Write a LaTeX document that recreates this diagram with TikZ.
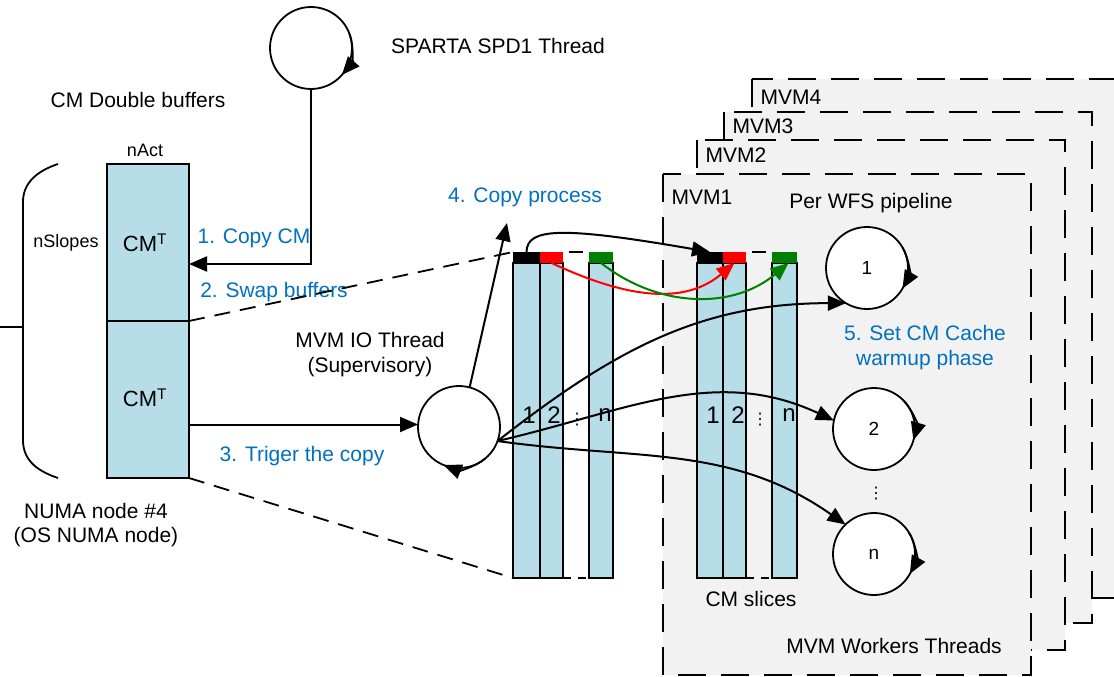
\documentclass[tikz,border=0pt]{standalone}
\usepackage{fontspec}
\setmainfont{Liberation Sans}
\newfontfamily\dotsfont{DejaVu Sans}
\usetikzlibrary{arrows.meta,positioning,calc}
\definecolor{StepBlue}{RGB}{0,112,192}
\definecolor{SliceBlue}{RGB}{183,222,232}
\definecolor{PanelGray}{RGB}{242,242,242}
\definecolor{CopyGreen}{RGB}{0,128,0}
\tikzset{
	thread/.style={draw, circle, line width=1.8pt, minimum size=82pt, inner sep=0pt, outer sep=0pt, fill=white, font=\fontsize{19}{21}\selectfont},
	cmbuf/.style={draw, line width=1.8pt, fill=SliceBlue, minimum width=82pt, minimum height=157pt, inner sep=0pt, outer sep=0pt},
	slice/.style={draw, line width=1.8pt, fill=SliceBlue, minimum height=315pt, inner sep=0pt, outer sep=0pt},
	slicecap/.style={minimum height=11pt, inner sep=0pt, outer sep=0pt},
	panel/.style={draw, line width=1.8pt, fill=PanelGray, dash pattern=on 28pt off 15pt},
	stepnote/.style={text=StepBlue},
	flow/.style={line width=2pt, -{Triangle[length=18pt,width=15pt]}},
	looptip/.style={line width=1.8pt, -{Triangle[length=18pt,width=15pt]}},
	projline/.style={line width=1.8pt, dash pattern=on 16pt off 10pt},
	colnum/.style={font=\fontsize{24}{26}\selectfont, inner sep=0pt},
	vdotsnode/.style={font=\dotsfont\fontsize{16}{18}\selectfont, inner sep=0pt}
}

\begin{document}
\begin{tikzpicture}[x=1pt, y=-1pt, font=\fontsize{21}{25}\selectfont]
	\useasboundingbox (0,0) rectangle (1114,677);
	% worker panels, back to front
	\draw[panel] (752,79) rectangle (1125,598);
	\draw[panel] (724,112) rectangle (1092,623);
	\draw[panel] (697,140) rectangle (1065,650);
	\draw[panel] (663,174) rectangle (1031,675);
	\node[anchor=west] (mvm4) at (757,97) {MVM4};
	\node[anchor=west] (mvm3) at (729,126) {MVM3};
	\node[anchor=west] (mvm2) at (702,155) {MVM2};
	\node[anchor=west] (mvm1) at (668,197) {MVM1};
	\node (perwfs) at (871,203) {Per WFS pipeline};
	\node (workers) at (894,646) {MVM Workers Threads};

	% CM double buffers
	\node (cmtitle) at (138,100) {CM Double buffers};
	\node[font=\fontsize{18}{20}\selectfont] (nact) at (145,150) {nAct};
	\node[cmbuf, anchor=north west] (cmA) at (107,164) {};
	\node[cmbuf, below=0pt of cmA] (cmB) {};
	\node[font=\fontsize{22}{24}\selectfont] at (145,243) {CM\textsuperscript{T}};
	\node[font=\fontsize{22}{24}\selectfont] at (145,398) {CM\textsuperscript{T}};
	\node[font=\fontsize{18}{20}\selectfont] (nslopes) at (66,243) {nSlopes};
	\draw[line width=1.8pt] (58,164) .. controls (34,172) and (23,185) .. (23,202) -- (23,440) .. controls (23,458) and (34,470) .. (58,478);
	\draw[line width=1.8pt] (0,327) -- (23,327);
	\node (numa1) at (96,511) {NUMA node \#4};
	\node (numa2) at (96,537) {(OS NUMA node)};

	% CM slices
	\foreach \nm/\xx/\ww/\cc in {a1/513/27/black, a2/540/23/red, a3/589/24/CopyGreen, b1/697/26/black, b2/723/23/red, b3/772/25/CopyGreen}{
		\node[slice, minimum width=\ww pt, anchor=north west] (\nm) at (\xx,263) {};
		\node[slicecap, minimum width=\ww pt, fill=\cc, above=0pt of \nm] (\nm cap) {};
	}
	\draw[line width=1.8pt, shorten <=6pt, shorten >=6pt] (a2cap.north east) -- (a3cap.north west);
	\draw[line width=1.8pt, shorten <=6pt, shorten >=6pt] (b2cap.north east) -- (b3cap.north west);
	\draw[line width=1.8pt, dash pattern=on 8pt off 7pt] (a2.south east) -- (a3.south west);
	\draw[line width=1.8pt, dash pattern=on 8pt off 7pt] (b2.south east) -- (b3.south west);
	\node[colnum] at (529,415) {1};
	\node[colnum] at (554,415) {2};
	\node[vdotsnode] at (577,420) {⋮};
	\node[colnum] at (605,415) {n};
	\node[colnum] at (713,415) {1};
	\node[colnum] at (738,415) {2};
	\node[vdotsnode] at (760,420) {⋮};
	\node[colnum] at (789,415) {n};
	\node (slices) at (751,599) {CM slices};

	% threads
	\node[thread] (sparta) at (311,48) {};
	\node (spartalbl) at (498,46) {SPARTA SPD1 Thread};
	\node[thread] (io) at (459,427) {};
	\node (iolbl1) at (370,340) {MVM IO Thread};
	\node (iolbl2) at (370,367) {(Supervisory)};
	\node[thread] (w1) at (867,268) {1};
	\node[thread] (w2) at (874,429) {2};
	\node[thread] (wn) at (874,554) {n};
	\node[vdotsnode] at (876,494) {⋮};
	\draw[looptip] (sparta.20) arc[start angle=-20, end angle=41, radius=41];
	\draw[looptip] (io.-50) arc[start angle=50, end angle=112, radius=41];
	\draw[looptip] (w1.30) arc[start angle=-30, end angle=30, radius=41];
	\draw[looptip] (w2.45) arc[start angle=-45, end angle=16, radius=41];
	\draw[looptip] (wn.32) arc[start angle=-32, end angle=29, radius=41];

	% steps
	\draw[flow] (sparta.south) |- ([yshift=-21.5pt]cmA.east);
	\node[stepnote] (s1) at (254,238) {1. Copy CM};
	\node[stepnote] (s2) at (274,292) {2. Swap buffers};
	\draw[projline] (cmA.south east) -- (a1cap.north west);
	\draw[projline] (cmB.south east) -- (a1.south west);
	\draw[flow] ([yshift=-25pt]cmB.east) -- ([yshift=-25pt]cmB.east -| io.west);
	\node[stepnote] (s3) at (302,456) {3. Triger the copy};
	\coordinate (copytip) at (507,223);
	\draw[flow] (io.75) -- (copytip);
	\node[stepnote] (s4) at (525,197) {4. Copy process};
	\draw[flow] (a1cap.north) .. controls (527,228) and (560,226) .. (b1cap.north);
	\draw[flow, red] (a2cap.south) to[out=-25, in=-140] (b2cap.south);
	\draw[flow, CopyGreen] (a3cap.south) to[out=-38, in=-140] ([xshift=4pt]b3cap.south);
	\draw[flow] (io.-20) to[out=38, in=180] (w1.-121);
	\draw[flow] (io.-20) to[out=13, in=155] (w2.168);
	\draw[flow] (io.-20) to[out=-8, in=145] (wn.134);
	\node[stepnote] (s5a) at (925,333) {5. Set CM Cache};
	\node[stepnote] (s5b) at (925,360) {warmup phase};
\end{tikzpicture}
\end{document}
